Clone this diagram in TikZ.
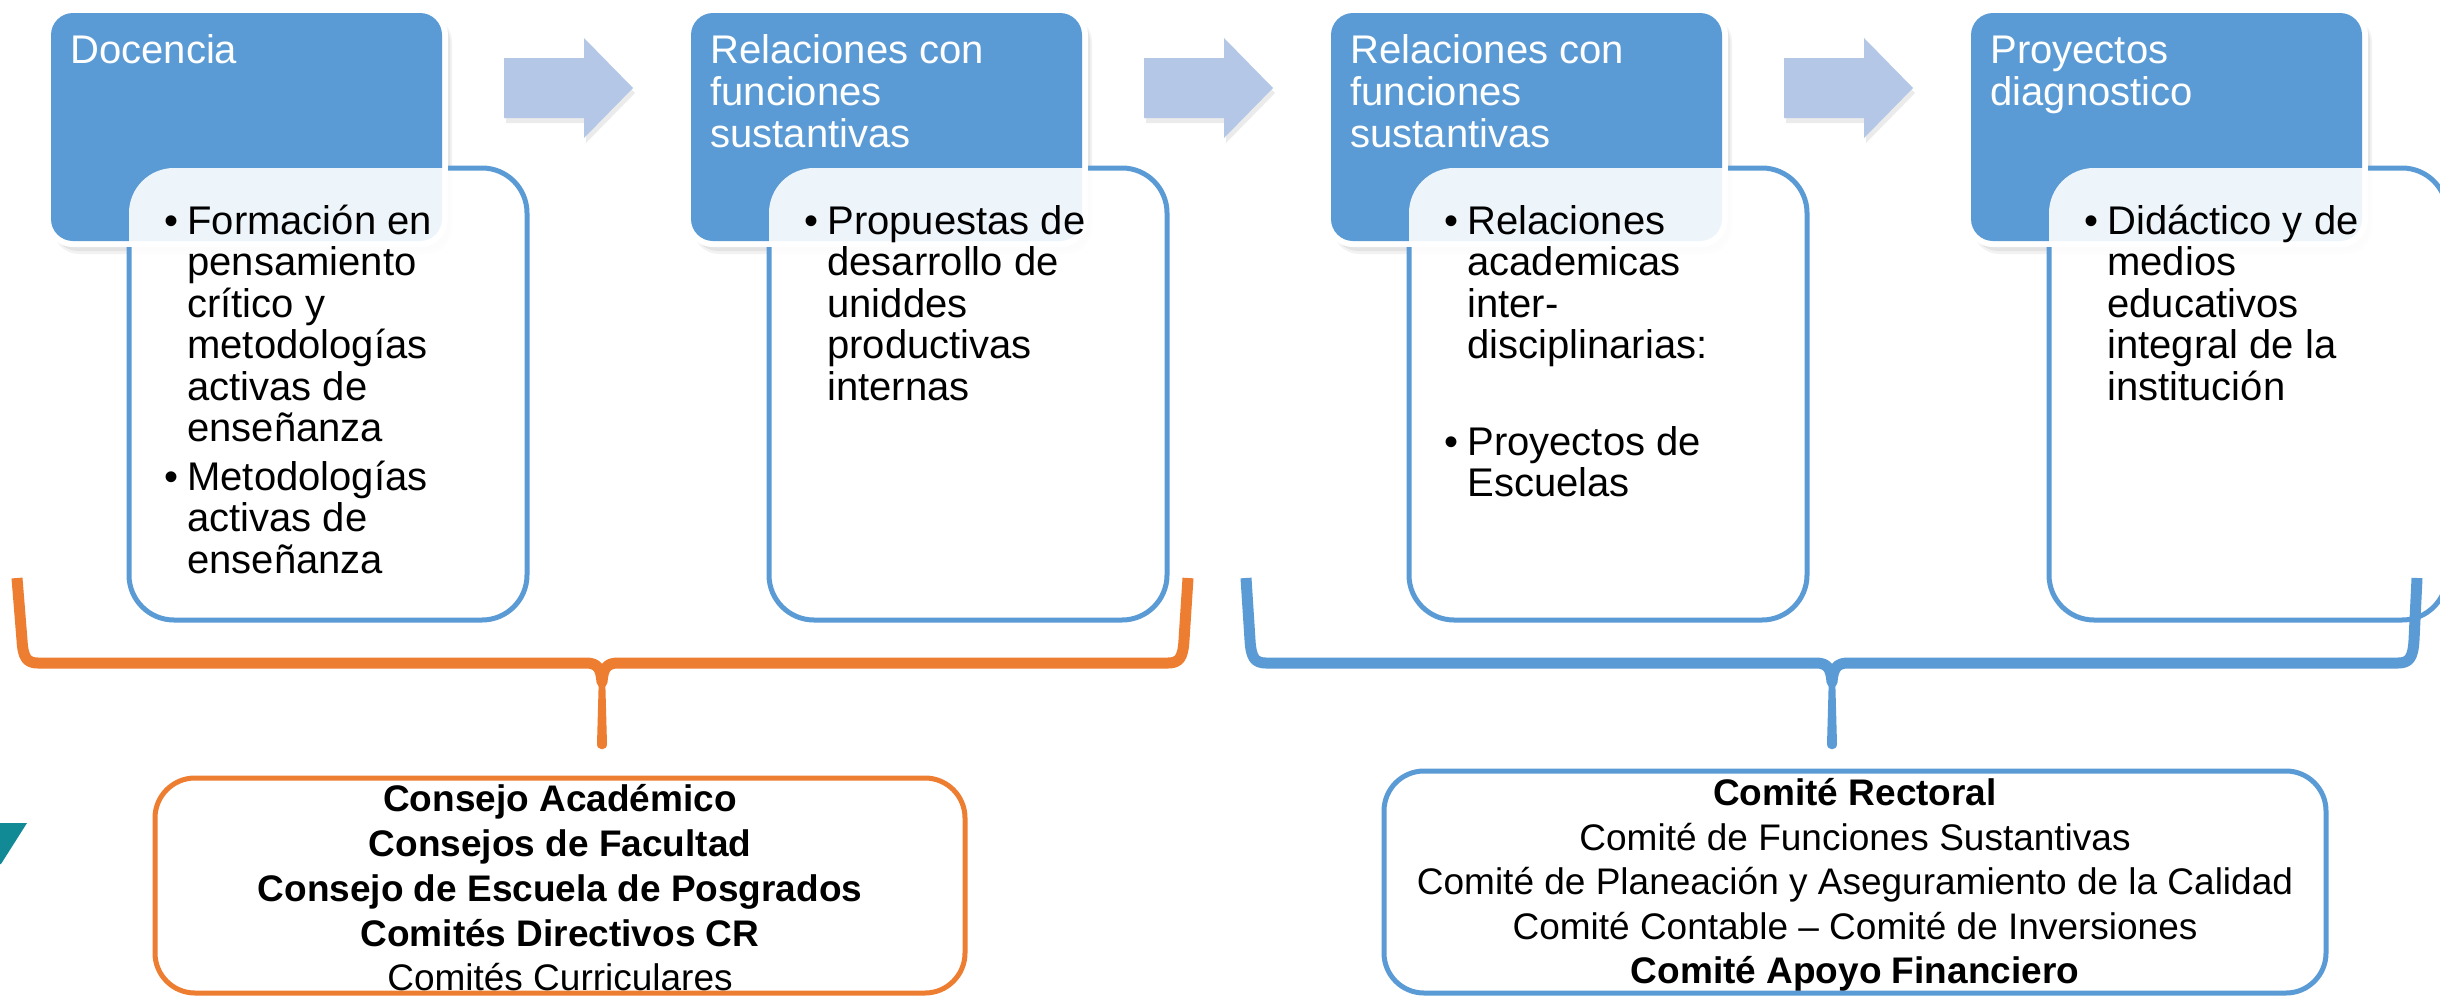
\documentclass[tikz,border=0pt]{standalone}
\usepackage{fontspec}
\setmainfont{Liberation Sans}
\definecolor{accblue}{HTML}{5B9BD5}
\definecolor{arrowblue}{HTML}{B4C7E7}
\definecolor{accorange}{HTML}{ED7D31}
\definecolor{tealc}{HTML}{118A96}
\newcommand\fsBig{\fontsize{20}{21}\selectfont}
\newcommand\fsSmall{\fontsize{18.5}{22}\selectfont}
\begin{document}
\begin{tikzpicture}[x=0.5pt,y=-0.5pt,
  titletxt/.style={text=white, font=\fsBig, inner sep=0pt, anchor=base west},
  bultxt/.style={text=black, font=\fsBig, inner sep=0pt, anchor=base west},
  ctrtxt/.style={text=black, font=\fsSmall, inner sep=0pt, anchor=base},
  ctrbold/.style={text=black, font=\fsSmall\bfseries, inner sep=0pt, anchor=base},
  bracestroke/.style={line width=5.5pt, line join=round, line cap=butt},
  bottombox/.style={line width=2.5pt, rounded corners=20pt, fill=white}]
\useasboundingbox (0,0) rectangle (2440,997);
\fill[white] (0,0) rectangle (2440,997);

% ---------- stage boxes ----------
\foreach \L/\D in {51/129, 691/769, 1331/1409, 1971/2049}{
  \fill[black, opacity=0.05, rounded corners=13pt] (\L+2,16) rectangle (\L+401,254);
  \fill[black, opacity=0.06, rounded corners=12pt] (\L+3,17) rectangle (\L+399,251);
  \draw[white, line width=6pt, rounded corners=11pt] (\L,13) rectangle (\L+391,241);
  \fill[accblue, rounded corners=11pt] (\L,13) rectangle (\L+391,241);
  \fill[white, fill opacity=0.9, rounded corners=22.5pt] (\D,168) rectangle (\D+398,620);
  \begin{scope}
    \clip (\L+397,0) rectangle (2440,997) (0,247) rectangle (2440,997);
    \draw[accblue, line width=2.5pt, rounded corners=22.5pt] (\D,168) rectangle (\D+398,620);
  \end{scope}
}

% ---------- arrows ----------
\foreach \s in {0,640,1280}{
  \fill[black, opacity=0.08] (\s+506,63) -- (\s+586,63) -- (\s+586,43) -- (\s+635,93) -- (\s+586,143) -- (\s+586,123) -- (\s+506,123) -- cycle;
  \fill[arrowblue] (\s+504,58) -- (\s+584,58) -- (\s+584,38) -- (\s+633,88) -- (\s+584,138) -- (\s+584,118) -- (\s+504,118) -- cycle;
}

% ---------- titles ----------
\node[titletxt] (t1) at (70,63) {Docencia};
\foreach \yy/\tx [count=\k] in {63/Relaciones con, 105/funciones, 147/sustantivas}
  \node[titletxt] (t2-\k) at (710,\yy) {\tx};
\foreach \yy/\tx [count=\k] in {63/Relaciones con, 105/funciones, 147/sustantivas}
  \node[titletxt] (t3-\k) at (1350,\yy) {\tx};
\foreach \yy/\tx [count=\k] in {63/Proyectos, 105/diagnostico}
  \node[titletxt] (t4-\k) at (1990,\yy) {\tx};

% ---------- bullets ----------
\node[bultxt] (b1a) at (164,234) {•};
\node[bultxt] (b1b) at (164,490) {•};
\foreach \yy/\tx [count=\k] in {234/Formación en, 275.5/pensamiento, 317/crítico y, 358.5/metodologías, 400/activas de, 441.5/enseñanza, 490/Metodologías, 531.5/activas de, 573/enseñanza}
  \node[bultxt] (d1-\k) at (187,\yy) {\tx};

\node[bultxt] (b2a) at (804,234) {•};
\foreach \yy/\tx [count=\k] in {234/Propuestas de, 275.5/desarrollo de, 317/uniddes, 358.5/productivas, 400/internas}
  \node[bultxt] (d2-\k) at (827,\yy) {\tx};

\node[bultxt] (b3a) at (1444,234) {•};
\node[bultxt] (b3b) at (1444,455) {•};
\foreach \yy/\tx [count=\k] in {234/Relaciones, 275.5/academicas, 317/inter-, 358.5/disciplinarias:, 455/Proyectos de, 496.5/Escuelas}
  \node[bultxt] (d3-\k) at (1467,\yy) {\tx};

\node[bultxt] (b4a) at (2084,234) {•};
\foreach \yy/\tx [count=\k] in {234/Didáctico y de, 275.5/medios, 317/educativos, 358.5/integral de la, 400/institución}
  \node[bultxt] (d4-\k) at (2107,\yy) {\tx};

% ---------- bottom boxes ----------
\draw[bottombox, draw=accorange] (155,778) rectangle (965,993);
\draw[bottombox, draw=accblue] (1384,771) rectangle (2326,993);

\node[ctrbold] (o1) at (560,811) {Consejo Académico};
\node[ctrbold] (o2) at (560,856) {Consejos de Facultad};
\node[ctrbold] (o3) at (560,901) {Consejo de Escuela de Posgrados};
\node[ctrbold] (o4) at (560,946) {Comités Directivos CR};
\node[ctrtxt]  (o5) at (560,990) {Comités Curriculares};

\node[ctrbold] (c1) at (1855,805) {Comité Rectoral};
\node[ctrtxt]  (c2) at (1855,850) {Comité de Funciones Sustantivas};
\node[ctrtxt]  (c3) at (1855,894) {Comité de Planeación y Aseguramiento de la Calidad};
\node[ctrtxt]  (c4) at (1855,939) {Comité Contable – Comité de Inversiones};
\node[ctrbold] (c5) at (1855,983) {Comité Apoyo Financiero};

% ---------- braces ----------
\draw[bracestroke, accorange] (17,578) -- (22,640) .. controls (23,658) and (27,663) .. (38,663)
  -- (586,663) .. controls (597,663) and (601,668) .. (602,682)
  .. controls (603,668) and (607,663) .. (618,663)
  -- (1168,663) .. controls (1179,663) and (1183,658) .. (1184,640) -- (1188,578);
\fill[accorange] (599,672) -- (605,672) -- (607,744) .. controls (607,751) and (597,751) .. (597,744) -- cycle;

\draw[bracestroke, accblue] (1246,578) -- (1250,640) .. controls (1251,658) and (1255,663) .. (1266,663)
  -- (1816,663) .. controls (1827,663) and (1831,668) .. (1832,682)
  .. controls (1833,668) and (1837,663) .. (1848,663)
  -- (2398,663) .. controls (2409,663) and (2413,658) .. (2414,640) -- (2417,578);
\fill[accblue] (1829,672) -- (1835,672) -- (1837,744) .. controls (1837,751) and (1827,751) .. (1827,744) -- cycle;

% ---------- teal corner shape ----------
\fill[tealc] (0,823) -- (27,823) -- (1,864) -- (0,864) -- cycle;
\end{tikzpicture}
\end{document}
